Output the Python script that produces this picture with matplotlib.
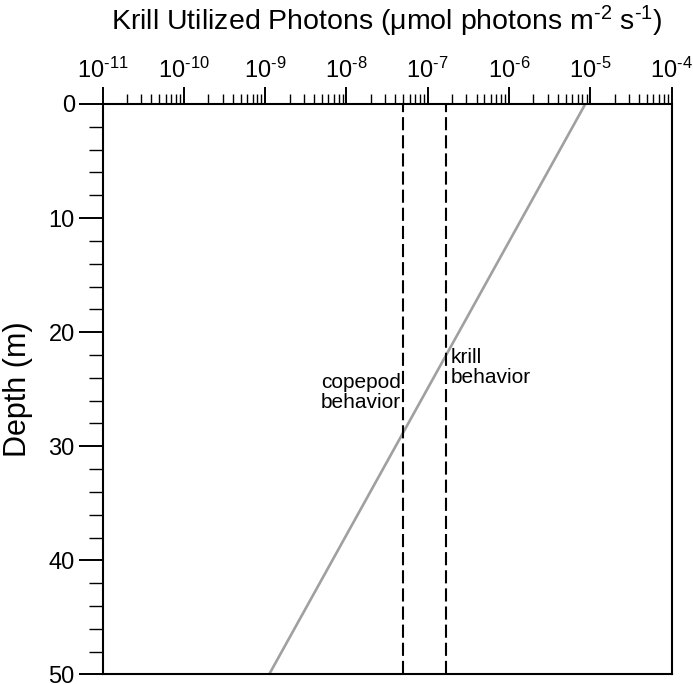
import matplotlib
matplotlib.use("Agg")
import numpy as np
import matplotlib.pyplot as plt
from matplotlib.ticker import LogLocator, MultipleLocator, NullFormatter, FuncFormatter

plt.rcParams['font.family'] = ['Liberation Sans', 'DejaVu Sans']
plt.rcParams['mathtext.fontset'] = 'custom'
plt.rcParams['mathtext.rm'] = 'Liberation Sans'
plt.rcParams['mathtext.it'] = 'Liberation Sans:italic'

# data
depth = [0, 50]
photons = [8.7e-6, 1.12e-9]
copepod_thresh = 5.0e-8
krill_thresh = 1.67e-7


def pow_label(v, pos):
    # plain hyphen in the exponent, like the original
    return r'10$^{\text{%d}}$' % int(round(np.log10(v)))


fig = plt.figure(figsize=(6.93, 6.84), dpi=100)
ax = fig.add_axes([0.148, 0.014, 0.821, 0.834])

ax.plot(photons, depth, color='#a0a0a0', lw=1.9, solid_capstyle='butt')
for xv in (copepod_thresh, krill_thresh):
    ax.axvline(xv, color='black', lw=1.5, dashes=(6.3, 2.4))

ax.set_xscale('log')
ax.set_xlim(1e-11, 1e-4)
ax.set_ylim(50, 0)

ax.xaxis.tick_top()
ax.xaxis.set_label_position('top')
ax.xaxis.set_major_locator(LogLocator(base=10, numticks=20))
ax.xaxis.set_major_formatter(FuncFormatter(pow_label))
ax.xaxis.set_minor_locator(LogLocator(base=10, subs=range(2, 10), numticks=100))
ax.xaxis.set_minor_formatter(NullFormatter())
ax.yaxis.set_major_locator(MultipleLocator(10))
ax.yaxis.set_minor_locator(MultipleLocator(2))

ax.tick_params(axis='x', which='major', length=12, width=1.4, labelsize=17, pad=3)
ax.tick_params(axis='x', which='minor', length=7, width=1.0)
ax.tick_params(axis='y', which='major', length=17, width=1.4, labelsize=17, pad=3)
ax.tick_params(axis='y', which='minor', length=10, width=1.0)
for s in ax.spines.values():
    s.set_linewidth(1.5)

ax.set_xlabel(r'Krill Utilized Photons (μmol photons m$^{\text{-2}}$ s$^{\text{-1}}$)', fontsize=20.5, labelpad=20)
ax.set_ylabel('Depth (m)', fontsize=22, labelpad=11)

ax.text(copepod_thresh * 0.93, 25.3, 'copepod\nbehavior', ha='right', va='center', fontsize=15, linespacing=1.05)
ax.text(krill_thresh * 1.15, 23.1, 'krill\nbehavior', ha='left', va='center', fontsize=15, linespacing=1.05)

fig.savefig('out.png', dpi=100)
